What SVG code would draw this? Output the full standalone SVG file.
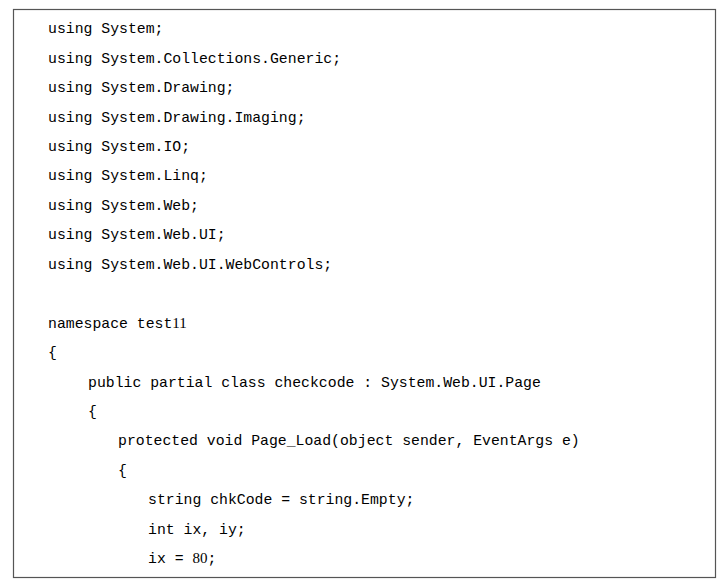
<svg xmlns="http://www.w3.org/2000/svg" width="726" height="587" viewBox="0 0 726 587">
<style>
text{font-family:"Liberation Mono","DejaVu Sans Mono",monospace;font-size:14.8px;fill:#000}
.s{font-family:"Liberation Serif",serif;font-size:15px}
</style>
<rect x="0" y="0" width="726" height="587" fill="#fff"/>
<rect x="13.5" y="9.5" width="702" height="568" fill="none" stroke="#555" stroke-width="1.2"/>
<g id="code">
<text x="48" y="33">using System;</text>
<text x="48" y="63">using System.Collections.Generic;</text>
<text x="48" y="92">using System.Drawing;</text>
<text x="48" y="122">using System.Drawing.Imaging;</text>
<text x="48" y="151">using System.IO;</text>
<text x="48" y="180">using System.Linq;</text>
<text x="48" y="210">using System.Web;</text>
<text x="48" y="239">using System.Web.UI;</text>
<text x="48" y="269">using System.Web.UI.WebControls;</text>
<text x="48" y="328">namespace test<tspan class="s">11</tspan></text>
<text x="48" y="357">{</text>
<text x="88" y="387">public partial class checkcode : System.Web.UI.Page</text>
<text x="88" y="416">{</text>
<text x="118" y="445">protected void Page_Load(object sender, EventArgs e)</text>
<text x="118" y="475">{</text>
<text x="148" y="504">string chkCode = string.Empty;</text>
<text x="148" y="534">int ix, iy;</text>
<text x="148" y="563">ix = <tspan class="s">80</tspan>;</text>
</g>
</svg>
